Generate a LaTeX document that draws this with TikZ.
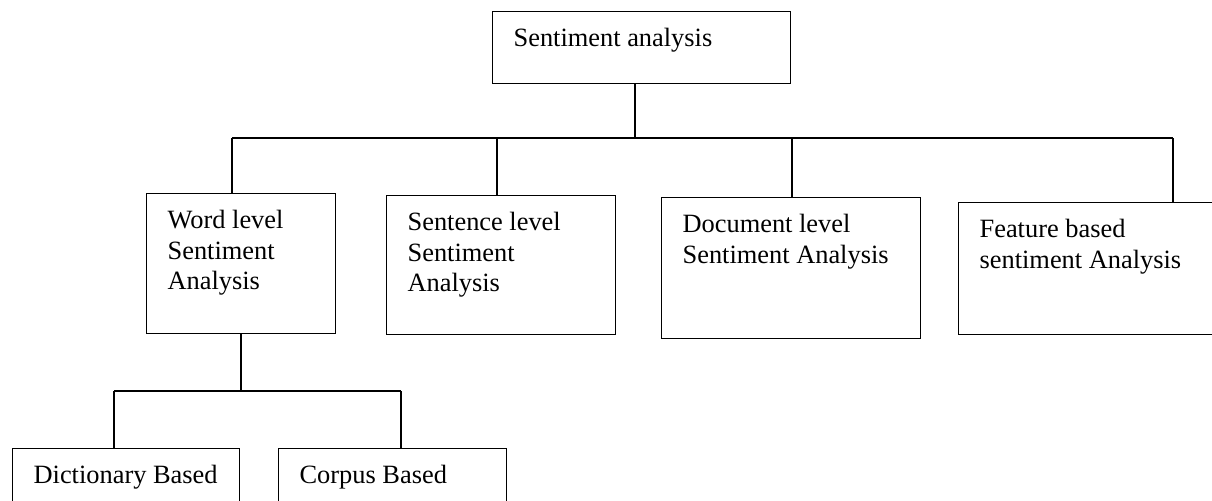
\documentclass[tikz,border=0pt]{standalone}
\usepackage{fontspec}
\setmainfont{Liberation Serif}
\usepackage{tikz}
\usetikzlibrary{calc}
% text sits at the top left of each box
\newcommand{\boxtxt}[3]{\parbox[t][#2][t]{#1}{\leftskip=10.5pt\rule{0pt}{17.5pt}#3}}

\begin{document}
\begin{tikzpicture}[x=0.5pt, y=-0.5pt,
    sabox/.style={draw, line width=0.6pt, inner sep=0pt, anchor=north west,
      font=\fontsize{13.2}{15.25}\selectfont},
    conn/.style={line width=0.8pt}]
  \useasboundingbox (0,0) rectangle (1212,500);
  \clip (0,0) rectangle (1212,500);
  % top
  \node[sabox] (root) at (492,11) {\boxtxt{149pt}{36pt}{Sentiment analysis}};
  % second level
  \node[sabox] (word) at (146,193) {\boxtxt{94.5pt}{70pt}{Word level\\Sentiment\\Analysis}};
  \node[sabox] (sent) at (386,195) {\boxtxt{114.5pt}{69.5pt}{Sentence level\\Sentiment\\Analysis}};
  \node[sabox] (doc) at (661,197) {\boxtxt{129.5pt}{70.5pt}{Document level\\Sentiment Analysis}};
  \node[sabox] (feat) at (958,202) {\boxtxt{141pt}{66pt}{Feature based\\sentiment Analysis}};
  % third level
  \node[sabox] (dict) at (12,448) {\boxtxt{113.5pt}{46pt}{Dictionary Based}};
  \node[sabox] (corp) at (278,448) {\boxtxt{114pt}{46pt}{Corpus Based}};
  % bus under the root
  \coordinate (hub) at (635,138);
  \coordinate (d1) at (232,138);
  \coordinate (d2) at (497,138);
  \coordinate (d3) at (792,138);
  \coordinate (d4) at (1173,138);
  \draw[conn] (hub |- root.south) -- (hub);
  \draw[conn] (d1) -- (d4);
  \draw[conn] (d1) -- (d1 |- word.north);
  \draw[conn] (d2) -- (d2 |- sent.north);
  \draw[conn] (d3) -- (d3 |- doc.north);
  \draw[conn] (d4) -- (d4 |- feat.north);
  % bus under word level
  \coordinate (w1) at (114,391);
  \coordinate (w2) at (401,391);
  \draw[conn] (word.south) -- (word.south |- w1);
  \draw[conn] (w1) -- (w2);
  \draw[conn] (w1) -- (w1 |- dict.north);
  \draw[conn] (w2) -- (w2 |- corp.north);
\end{tikzpicture}
\end{document}
